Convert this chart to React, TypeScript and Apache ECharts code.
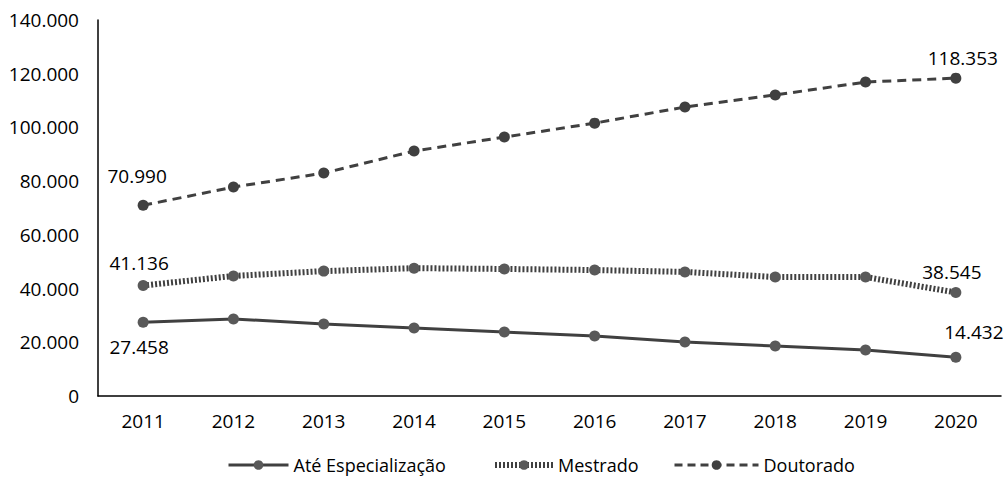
import React, { useEffect, useRef } from "react";
import * as echarts from "echarts";

const years = ["2011", "2012", "2013", "2014", "2015", "2016", "2017", "2018", "2019", "2020"];
const ateEspecializacao = [27458, 28700, 26800, 25300, 23800, 22300, 20100, 18600, 17100, 14432];
const mestrado = [41136, 44700, 46500, 47600, 47300, 46900, 46200, 44300, 44300, 38545];
const doutorado = [70990, 77800, 83000, 91200, 96400, 101600, 107600, 112100, 116900, 118353];

const fmt = (v: number) =>
  Math.round(v)
    .toString()
    .replace(/\B(?=(\d{3})+(?!\d))/g, ".");

const FONT = "Open Sans";
const FS = 19;

function withLabels(values: number[], first: any, last: any) {
  return values.map((v, i) => {
    if (i === 0) return { value: v, label: { show: true, ...first } };
    if (i === values.length - 1) return { value: v, label: { show: true, ...last } };
    return { value: v };
  });
}

export default function App() {
  const ref = useRef<HTMLDivElement>(null);
  useEffect(() => {
    if (!ref.current) return;
    const chart = echarts.init(ref.current, undefined, { renderer: "svg" });
    const labelBase = {
      color: "#000",
      fontSize: FS,
      fontFamily: FONT,
      formatter: (p: any) => fmt(p.value),
    };
    const legendBase = {
      top: 454,
      padding: [2, 5, 2, 5],
      itemHeight: 12,
      textStyle: { fontSize: 18, color: "#000", fontFamily: FONT },
    };
    chart.setOption({
      animation: false,
      textStyle: { fontFamily: FONT },
      grid: { left: 98, right: 4, top: 20, bottom: 81, containLabel: false },
      legend: [
        {
          ...legendBase,
          left: 222,
          itemWidth: 60,
          data: [{ name: "Até Especialização", lineStyle: { width: 3, color: "#404040" } }],
        },
        {
          ...legendBase,
          left: 487,
          itemWidth: 58,
          data: [{ name: "Mestrado", lineStyle: { width: 6, type: [2, 2], color: "#404040" } }],
        },
        {
          ...legendBase,
          left: 668,
          itemWidth: 84,
          data: [{ name: "Doutorado", lineStyle: { width: 3, type: [8, 5], color: "#404040" } }],
        },
      ],
      xAxis: {
        type: "category",
        data: years,
        boundaryGap: true,
        axisLine: { lineStyle: { color: "#000", width: 1.5 } },
        axisTick: { show: false },
        axisLabel: { color: "#000", fontSize: FS, margin: 15, fontFamily: FONT },
      },
      yAxis: {
        type: "value",
        min: 0,
        max: 140000,
        interval: 20000,
        axisLine: { show: true, lineStyle: { color: "#000", width: 1.5 } },
        axisTick: { show: false },
        splitLine: { show: false },
        axisLabel: {
          color: "#000",
          fontSize: FS,
          margin: 19,
          fontFamily: FONT,
          formatter: (v: number) => fmt(v),
        },
      },
      series: [
        {
          name: "Até Especialização",
          type: "line",
          symbol: "circle",
          symbolSize: 11,
          itemStyle: { color: "#595959" },
          lineStyle: { color: "#404040", width: 3, type: "solid" },
          label: labelBase,
          data: withLabels(
            ateEspecializacao,
            { position: "bottom", distance: 10, offset: [-4, 0] },
            { position: "top", distance: 10, offset: [18, 0] }
          ),
        },
        {
          name: "Mestrado",
          type: "line",
          symbol: "circle",
          symbolSize: 11,
          itemStyle: { color: "#595959" },
          lineStyle: { color: "#404040", width: 6, type: [2, 2] },
          label: labelBase,
          data: withLabels(
            mestrado,
            { position: "top", distance: 8, offset: [-4, 0] },
            { position: "top", distance: 5, offset: [-4, 0] }
          ),
        },
        {
          name: "Doutorado",
          type: "line",
          symbol: "circle",
          symbolSize: 11,
          itemStyle: { color: "#404040" },
          lineStyle: { color: "#404040", width: 3, type: [9, 6] },
          label: labelBase,
          data: withLabels(
            doutorado,
            { position: "top", distance: 14, offset: [-6, 0] },
            { position: "top", distance: 5, offset: [7, 0] }
          ),
        },
      ],
    });
    return () => chart.dispose();
  }, []);
  return <div ref={ref} style={{ width: 1005, height: 477, position: "absolute", left: 0, top: 0 }} />;
}
